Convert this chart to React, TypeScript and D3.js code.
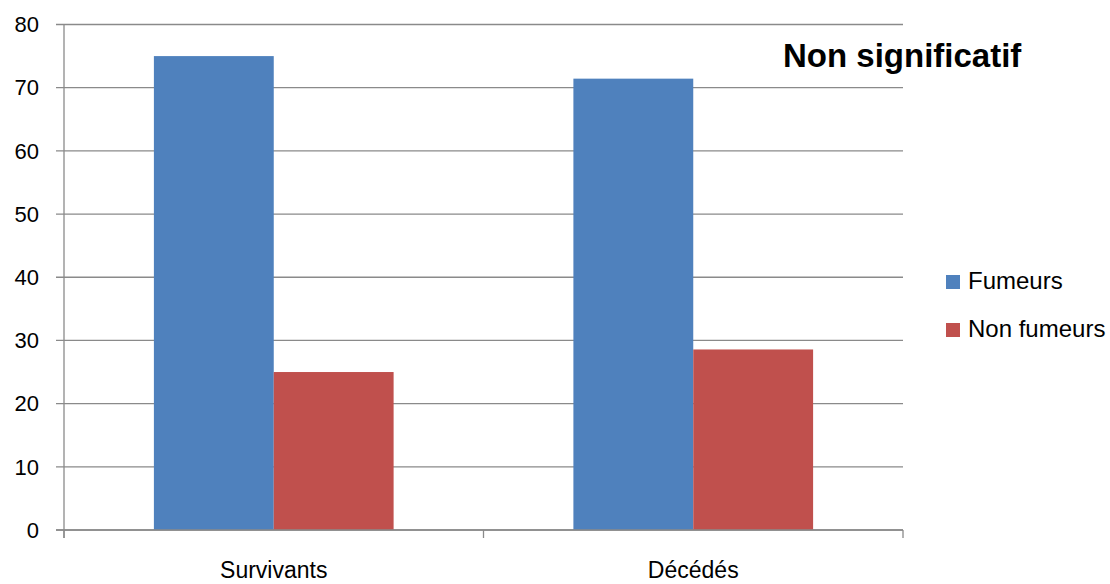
import React from "react";
import * as d3 from "d3";

const categories = ["Survivants", "Décédés"];
const seriesNames = ["Fumeurs", "Non fumeurs"];
const fumeurs = [75, 71.43];
const nonFumeurs = [25, 28.57];
const yTicks = [0, 10, 20, 30, 40, 50, 60, 70, 80];
const title = "Non significatif";

const colors = ["#4F81BD", "#C0504D"];
const FONT = "'Liberation Sans', Arial, sans-serif";

export default function App() {
  const W = 1110, H = 584;
  const left = 64, right = 903, top = 24.5, bottom = 530;
  const x0 = d3.scaleBand<string>().domain(categories).range([left, right]).paddingInner(0).paddingOuter(0);
  const x1 = d3.scaleBand<string>().domain(seriesNames).range([0, x0.bandwidth()]).paddingInner(0).paddingOuter(0.75);
  const y = d3.scaleLinear().domain([0, 80]).range([bottom, top]);
  const values = [fumeurs, nonFumeurs];
  const grid = "#8a8a8a";
  const catTicks = [...categories.map((c) => x0(c) as number), right];

  return (
    <svg width={W} height={H} style={{ position: "absolute", left: 0, top: 0, display: "block" }} fontFamily={FONT}>
      <rect width={W} height={H} fill="#fff" />
      {yTicks.map((t) => (
        <g key={t}>
          <line x1={56} x2={right} y1={y(t)} y2={y(t)} stroke={grid} strokeWidth={1.3} />
          <text x={39} y={y(t)} dy="0.35em" textAnchor="end" fontSize={22} fill="#000">{t}</text>
        </g>
      ))}
      {seriesNames.map((s, si) =>
        categories.map((c, ci) => (
          <rect
            key={s + c}
            x={(x0(c) as number) + (x1(s) as number)}
            y={y(values[si][ci])}
            width={x1.bandwidth()}
            height={bottom - y(values[si][ci])}
            fill={colors[si]}
          />
        ))
      )}
      <line x1={left} x2={left} y1={top} y2={538} stroke={grid} strokeWidth={1.3} />
      <line x1={56} x2={right} y1={bottom} y2={bottom} stroke={grid} strokeWidth={1.3} />
      {catTicks.map((t, i) => (
        <line key={i} x1={t} x2={t} y1={bottom} y2={538} stroke={grid} strokeWidth={1.3} />
      ))}
      {categories.map((c) => (
        <text key={c} x={(x0(c) as number) + x0.bandwidth() / 2} y={578} textAnchor="middle" fontSize={23} fill="#000">{c}</text>
      ))}
      <text x={783} y={67} fontSize={33} fontWeight="bold" fill="#000">{title}</text>
      {seriesNames.map((s, i) => (
        <g key={s} transform={`translate(946, ${275 + i * 48})`}>
          <rect x={0} y={0} width={14} height={14} fill={colors[i]} />
          <text x={22} y={14} fontSize={24} fill="#000">{s}</text>
        </g>
      ))}
    </svg>
  );
}
